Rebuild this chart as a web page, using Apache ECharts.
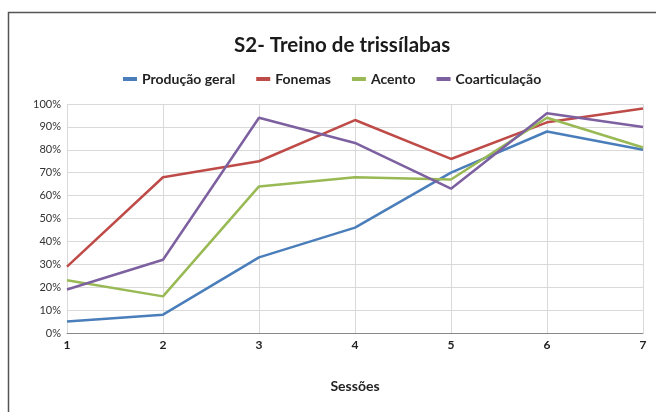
<!DOCTYPE html>
<html><head><meta charset="utf-8">
<script src="https://cdn.jsdelivr.net/npm/echarts@6/dist/echarts.min.js"></script>
<style>html,body{margin:0;padding:0;background:#fff}#c{width:656px;height:412px}</style>
</head><body><div id="c"></div>
<script>
var categories = ['1','2','3','4','5','6','7'];
var producaoGeral = [5, 8, 33, 46, 70, 88, 80];
var fonemas = [29, 68, 75, 93, 76, 92, 98];
var acento = [23, 16, 64, 68, 67, 94, 81];
var coarticulacao = [19, 32, 94, 83, 63, 96, 90];
var seriesNames = ['Produção geral', 'Fonemas', 'Acento', 'Coarticulação'];
var colors = ['#4a7ebb', '#be4b48', '#98b954', '#7d60a0'];
var font = 'Lato, "Open Sans", sans-serif';
var chart = echarts.init(document.getElementById('c'));
var data = [producaoGeral, fonemas, acento, coarticulacao];
chart.setOption({
  animation: false,
  color: colors,
  graphic: [{type: 'rect', shape: {x: 8.5, y: 12.5, width: 800, height: 600}, style: {fill: 'none', stroke: '#555', lineWidth: 1.5}, silent: true}],
  title: {text: 'S2- Treino de trissílabas', left: 229, top: 30, textStyle: {fontFamily: font, fontSize: 20.5, fontWeight: 'bold', color: '#1a1a1a'}},
  legend: {top: 67, left: 118, icon: 'rect', itemWidth: 14, itemHeight: 4, itemGap: 21,
    textStyle: {fontFamily: font, fontSize: 14, fontWeight: 'bold', color: '#222'}, data: seriesNames},
  grid: {left: 67, right: 13, top: 104, bottom: 79},
  xAxis: {type: 'category', data: categories, boundaryGap: false, name: 'Sessões', nameLocation: 'middle', nameGap: 46,
    nameTextStyle: {fontFamily: font, fontSize: 14, fontWeight: 'bold', color: '#222'},
    axisLine: {lineStyle: {color: '#888', width: 1}}, axisTick: {show: false},
    axisLabel: {fontFamily: font, fontSize: 12, fontWeight: 'bold', color: '#222', margin: 6},
    splitLine: {show: true, lineStyle: {color: '#d9d9d9', width: 1}}},
  yAxis: {type: 'value', min: 0, max: 100, interval: 10,
    axisLine: {show: false}, axisTick: {show: false},
    axisLabel: {fontFamily: font, fontSize: 11, color: '#333', formatter: '{value}%', margin: 6},
    splitLine: {show: true, lineStyle: {color: '#d9d9d9', width: 1}}},
  series: seriesNames.map(function (n, i) {
    return {name: n, type: 'line', data: data[i], symbol: 'none', lineStyle: {width: 2.5}};
  })
});
</script></body></html>
